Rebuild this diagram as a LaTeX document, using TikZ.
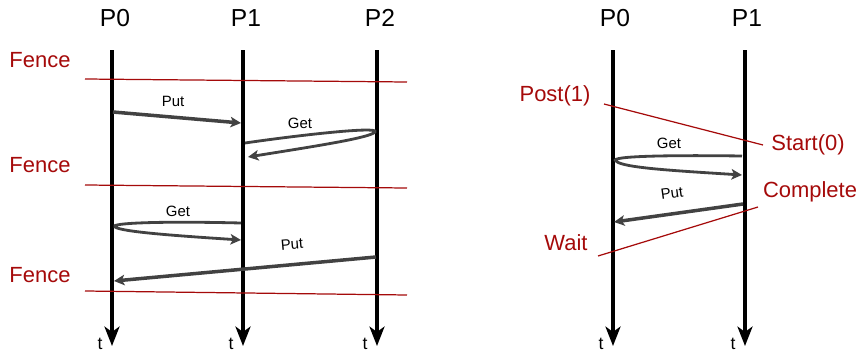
\documentclass[tikz,border=0pt]{standalone}
\usepackage{fontspec}
\setmainfont{Liberation Sans}
\usepackage{tikz}
\usetikzlibrary{arrows.meta, positioning, calc}
\definecolor{SyncRed}{RGB}{165, 10, 10}
\definecolor{MsgGray}{RGB}{66, 66, 66}

\begin{document}
\begin{tikzpicture}[x=0.02cm, y=-0.02cm, font=\fontsize{14}{16}\selectfont,
  proc/.style={line width=2.3pt, -{Stealth[length=11pt, width=8.5pt, inset=3pt]}},
  msg/.style={draw=MsgGray, line width=2pt, -{Stealth[length=6pt, width=6pt, inset=1.5pt]}},
  loopmsg/.style={msg, line width=1.6pt},
  sync/.style={draw=SyncRed, line width=0.7pt},
  synclabel/.style={text=SyncRed, font=\fontsize{12.5}{14}\selectfont},
  msglabel/.style={font=\fontsize{8.5}{10}\selectfont},
  tlabel/.style={font=\fontsize{10}{12}\selectfont}]
\useasboundingbox (0, 0) rectangle (860, 352);

% left: fence
\foreach \x/\n in {112/0, 243/1, 377/2} {
  \node (LP\n) at (\x+3, 18) {P\n};
  \coordinate (Ltop\n) at (\x, 50);
  \coordinate (Lbot\n) at (\x, 346);
  \draw[proc] (Ltop\n) -- (Lbot\n);
  \node[tlabel] (Lt\n) at (\x-12, 344) {t};
}
\foreach \y/\d/\n in {79/82/1, 185/188/2, 291/295/3} {
  \coordinate (F\n a) at (85, \y);
  \coordinate (F\n b) at (407, \d);
  \draw[sync] (F\n a) -- (F\n b);
}
\node[synclabel] (fence1) at (40, 60) {Fence};
\node[synclabel] (fence2) at (40, 165) {Fence};
\node[synclabel] (fence3) at (40, 275) {Fence};

\coordinate (put1s) at (113, 112);
\coordinate (put1e) at (241, 123);
\draw[msg] (put1s) -- (put1e);
\node[msglabel] (put1) at (173, 101) {Put};

\coordinate (get1s) at (245, 143);
\coordinate (get1m) at (375, 132);
\coordinate (get1e) at (248, 157);
\draw[loopmsg] (get1s) .. controls (300, 135) and (380, 126) .. (get1m)
  .. controls (370, 138) and (310, 147) .. (get1e);
\node[msglabel] (get1) at (300, 123) {Get};

\coordinate (get2s) at (241, 223);
\coordinate (get2m) at (115, 227);
\coordinate (get2e) at (241, 240);
\draw[loopmsg] (get2s) .. controls (160, 221) and (108, 223) .. (get2m)
  .. controls (122, 232) and (180, 236) .. (get2e);
\node[msglabel] (get2) at (178, 211) {Get};

\coordinate (put2s) at (376, 257);
\coordinate (put2e) at (114, 281);
\draw[msg] (put2s) -- (put2e);
\node[msglabel, rotate=5] (put2) at (292, 244) {Put};

% right: post/start/complete/wait
\foreach \x/\n in {613/0, 745/1} {
  \node (RP\n) at (\x+2, 18) {P\n};
  \coordinate (Rtop\n) at (\x, 50);
  \coordinate (Rbot\n) at (\x, 346);
  \draw[proc] (Rtop\n) -- (Rbot\n);
  \node[tlabel] (Rt\n) at (\x-12, 344) {t};
}
\node[synclabel] (post) at (555, 96) {Post(1)};
\node[synclabel] (start) at (808, 145) {Start(0)};
\coordinate (ps1) at (604, 104);
\coordinate (ps2) at (763, 145);
\draw[sync] (ps1) -- (ps2);

\coordinate (get3s) at (742, 156);
\coordinate (get3m) at (616, 161);
\coordinate (get3e) at (742, 175);
\draw[loopmsg] (get3s) .. controls (670, 155) and (608, 156) .. (get3m)
  .. controls (622, 168) and (680, 171) .. (get3e);
\node[msglabel] (get3) at (669, 143) {Get};

\coordinate (put3s) at (743, 204);
\coordinate (put3e) at (614, 222);
\draw[msg] (put3s) -- (put3e);
\node[msglabel, rotate=8] (put3) at (672, 193) {Put};

\node[synclabel] (complete) at (810, 192) {Complete};
\node[synclabel] (wait) at (566, 243) {Wait};
\coordinate (cw1) at (758, 207);
\coordinate (cw2) at (598, 256);
\draw[sync] (cw1) -- (cw2);
\end{tikzpicture}
\end{document}
